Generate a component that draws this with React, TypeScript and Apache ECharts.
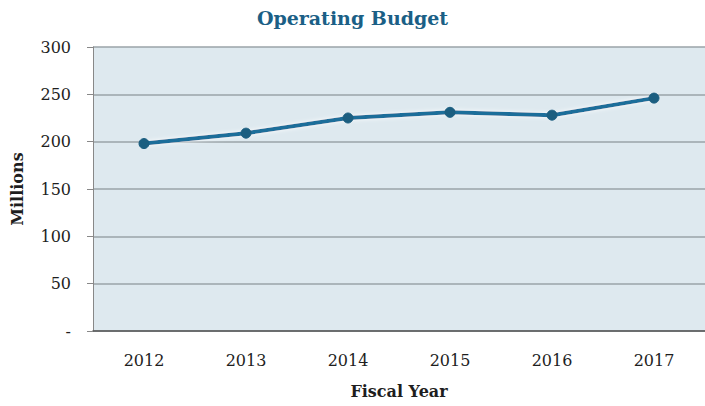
import React, { useEffect, useRef } from "react";
import * as echarts from "echarts";

const years = ["2012", "2013", "2014", "2015", "2016", "2017"];
const budget = [198, 209, 225, 231, 228, 246];
const yTicks = [0, 50, 100, 150, 200, 250, 300];

export default function App() {
  const ref = useRef<HTMLDivElement>(null);
  useEffect(() => {
    if (!ref.current) return;
    const chart = echarts.init(ref.current, null, { renderer: "svg" });
    const serif = "DejaVu Serif";
    chart.setOption({
      animation: false,
      backgroundColor: "#ffffff",
      title: {
        text: "Operating Budget",
        left: "center",
        top: 3,
        textStyle: { fontFamily: serif, fontSize: 19, fontWeight: "bold", color: "#1b5f86" },
      },
      grid: {
        left: 93,
        right: 0,
        top: 47,
        bottom: 75,
        show: true,
        backgroundColor: "#dee9ef",
        borderWidth: 0,
        outerBoundsMode: "none",
        containLabel: false,
      },
      xAxis: {
        type: "category",
        data: years,
        name: "Fiscal Year",
        nameLocation: "middle",
        nameGap: 52,
        nameTextStyle: { fontFamily: serif, fontSize: 16, fontWeight: "bold", color: "#1e1e1e" },
        axisLine: { show: true, lineStyle: { color: "#555", width: 1.5 } },
        axisTick: { show: false },
        axisLabel: { fontFamily: serif, fontSize: 16, color: "#1e1e1e", margin: 21 },
      },
      yAxis: {
        type: "value",
        min: yTicks[0],
        max: yTicks[yTicks.length - 1],
        interval: 50,
        name: "Millions",
        nameLocation: "middle",
        nameGap: 68,
        nameRotate: 90,
        nameTextStyle: { fontFamily: serif, fontSize: 16, fontWeight: "bold", color: "#1e1e1e" },
        axisLine: { show: true, lineStyle: { color: "#888", width: 1 } },
        axisTick: { show: true, length: 6, lineStyle: { color: "#888" } },
        axisLabel: {
          fontFamily: serif,
          fontSize: 16,
          color: "#1e1e1e",
          margin: 22,
          formatter: (v: number) => (v === 0 ? "-" : String(v)),
        },
        splitLine: { show: true, lineStyle: { color: "#9aa3a8", width: 1.5 } },
      },
      series: [
        {
          type: "line",
          data: budget,
          symbol: "circle",
          symbolSize: 10,
          lineStyle: {
            color: "#1c6e9a",
            width: 4,
            shadowColor: "rgba(255,255,255,0.95)",
            shadowBlur: 4,
          },
          itemStyle: { color: "#1b5e80", borderColor: "#1b5e80" },
        },
      ],
    });
    return () => chart.dispose();
  }, []);
  return (
    <div
      ref={ref}
      style={{ position: "absolute", left: 0, top: 0, width: 705, height: 406 }}
    />
  );
}
